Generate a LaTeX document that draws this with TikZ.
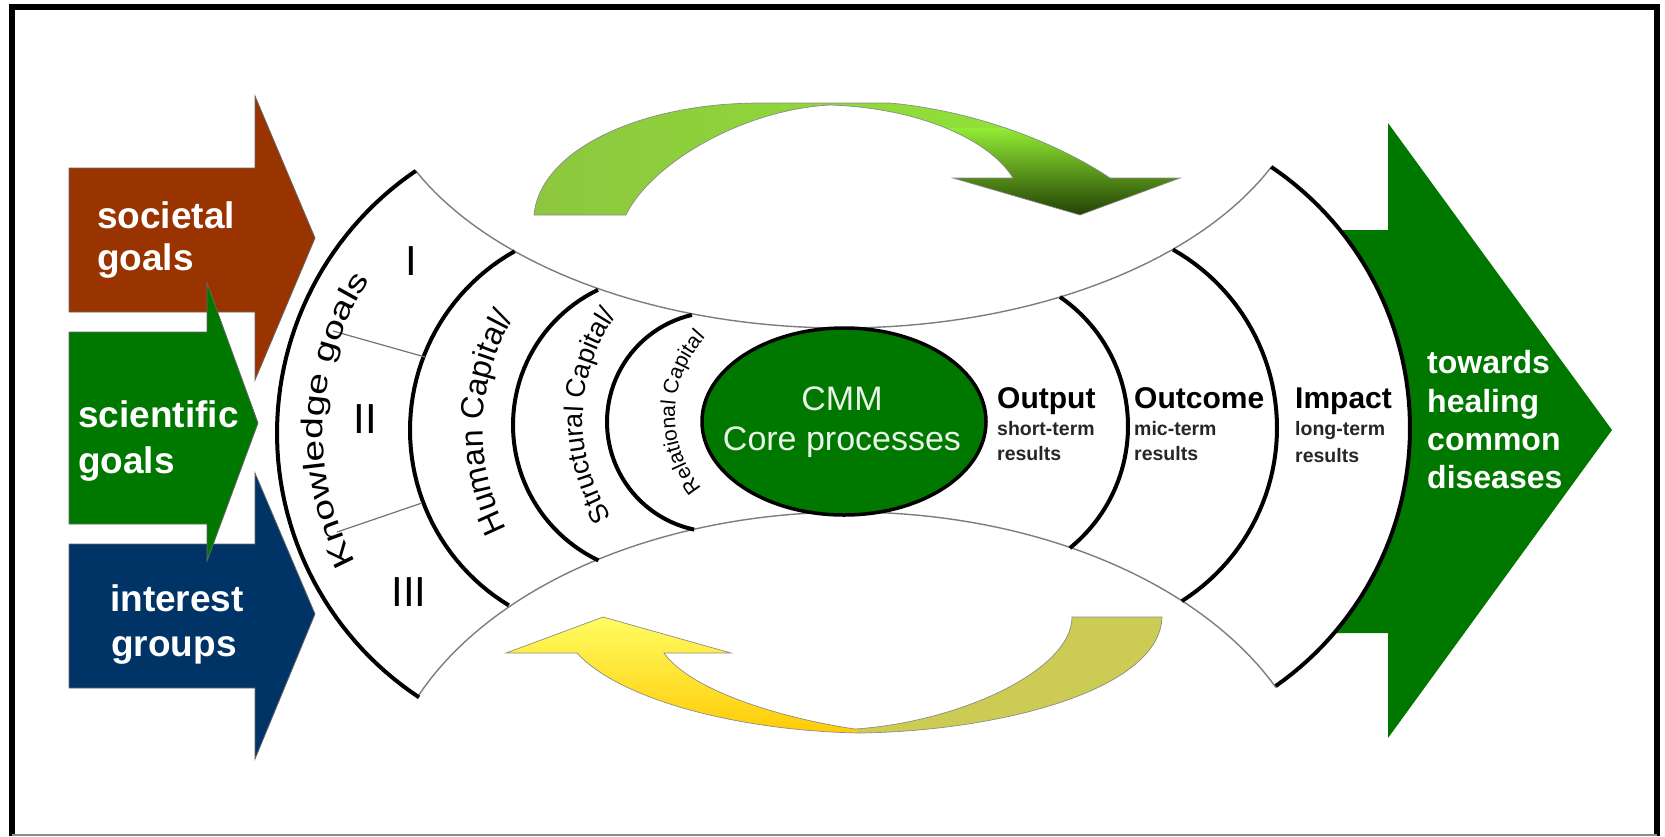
\documentclass[tikz,border=0pt]{standalone}
\usepackage{fontspec}
\setmainfont{Liberation Sans}
\newfontfamily\widesans[FakeStretch=1.3]{Liberation Sans}
\usetikzlibrary{decorations.text}

\definecolor{societybrown}{RGB}{153,51,0}
\definecolor{interestnavy}{RGB}{0,51,102}
\definecolor{cmmgreen}{RGB}{0,120,0}
\definecolor{rimgrey}{RGB}{125,125,125}
\definecolor{leafA}{RGB}{141,198,63}
\definecolor{leafB}{RGB}{146,236,52}
\definecolor{leafC}{RGB}{74,132,20}
\definecolor{leafD}{RGB}{26,51,0}
\definecolor{sunA}{RGB}{255,255,102}
\definecolor{sunB}{RGB}{255,200,0}
\definecolor{olivetail}{RGB}{204,204,85}
\definecolor{cmmtext}{RGB}{232,245,232}

\tikzset{
  ring/.style={line width=4pt, black},
  rim/.style={line width=1.4pt, rimgrey},
  divider/.style={line width=1.2pt, black!55},
  goalarrow/.style={draw=black!60, line width=0.8pt},
  goallabel/.style={font=\fontsize{37}{37}\selectfont\bfseries, text=white, inner sep=0pt, anchor=base west},
  aimlabel/.style={font=\fontsize{32}{32}\selectfont\bfseries, text=white, inner sep=0pt, anchor=base west},
  stagehead/.style={font=\fontsize{30}{30}\selectfont\bfseries, inner sep=0pt, anchor=base west},
  stagenote/.style={font=\fontsize{19.5}{19.5}\selectfont\bfseries, text=black!85, inner sep=0pt, anchor=base west},
  numeral/.style={font=\fontsize{42}{42}\selectfont, inner sep=0pt},
  cmmlabel/.style={font=\fontsize{34}{34}\selectfont, text=cmmtext, inner sep=0pt, anchor=base},
  cycleedge/.style={draw=black!45, line width=0.7pt},
}

\begin{document}
\begin{tikzpicture}[x=1pt,y=-1pt]
\useasboundingbox (0,0) rectangle (1665,836);

% frame
\draw[line width=6pt] (12,836) -- (12,6.5) -- (1656.5,6.5) -- (1656.5,836);
\draw[line width=2pt, black!45] (12,834.5) -- (1656.5,834.5);

% outgoing arrow behind the body
\fill[cmmgreen] (1300,230) -- (1388,230) -- (1388,123) -- (1612,430) -- (1388,738) -- (1388,633) -- (1300,633) -- cycle;

% white body of the model
\fill[white] plot[domain=235.8:123.5,samples=60] ({594+317*cos(\x)},{433+317*sin(\x)})
  -- plot[domain=203.5:335,samples=80] ({850+470*cos(\x)},{816+304*sin(\x)})
  -- plot[domain=55:-56,samples=60] ({1095+315*cos(\x)},{428+315*sin(\x)})
  -- plot[domain=24.1:155.1,samples=80] ({842+470*cos(\x)},{56.5+271.5*sin(\x)})
  -- cycle;

% upper and lower rims
\draw[rim] plot[domain=24.1:155.1,samples=80] ({842+470*cos(\x)},{56.5+271.5*sin(\x)});
\draw[rim] plot[domain=203.5:335,samples=80] ({850+470*cos(\x)},{816+304*sin(\x)});

% rings of the left fan
\draw[ring] plot[domain=235.8:123.5,samples=60] ({594+317*cos(\x)},{433+317*sin(\x)});
\draw[ring] plot[domain=240.7:121.2,samples=50] ({615+205*cos(\x)},{430+205*sin(\x)});
\draw[ring] plot[domain=244.3:115.5,samples=50] ({663+150*cos(\x)},{425+150*sin(\x)});
\draw[ring] plot[domain=256.8:102,samples=50] ({717+110*cos(\x)},{422+110*sin(\x)});
% rings of the right fan
\draw[ring] plot[domain=-55.5:51,samples=50] ({971.2+156.8*cos(\x)},{426.2+156.8*sin(\x)});
\draw[ring] plot[domain=-60.5:57.6,samples=50] ({1072+205*cos(\x)},{428+205*sin(\x)});
\draw[ring] plot[domain=-56:55,samples=60] ({1095+315*cos(\x)},{428+315*sin(\x)});

% sector dividers of the knowledge ring
\draw[divider] (333,331) -- (425,357);
\draw[divider] (337,532) -- (422,503);

% curved ring labels
\path[decorate, decoration={text along path, text align=center,
  text={|\widesans\fontsize{30}{30}\selectfont|Knowledge goals}}]
  plot[domain=140:226,samples=90] ({594+271*cos(\x)},{433+271*sin(\x)});
\path[decorate, decoration={text along path, text align=center,
  text={|\fontsize{32}{32}\selectfont|Human Capital/}}]
  plot[domain=140:224,samples=90] ({700+217*cos(\x)},{430+217*sin(\x)});
\path[decorate, decoration={text along path, text align=center,
  text={|\fontsize{27}{27}\selectfont|Structural Capital/}}]
  plot[domain=128:235,samples=90] ({765+182*cos(\x)},{420+182*sin(\x)});
\path[decorate, decoration={text along path, text align=center,
  text={|\fontsize{21}{21}\selectfont|Relational Capital}}]
  plot[domain=120:243,samples=90] ({789+114*cos(\x)},{415+114*sin(\x)});

% sector numerals
\node[numeral] (n1) at (411,261) {I};
\node[numeral] (n2) at (365,419) {II};
\node[numeral] (n3) at (409,592) {III};

% core processes
\draw[line width=3.5pt, fill=cmmgreen] (844,421.5) ellipse [x radius=142, y radius=93.5];
\node[cmmlabel] (cmm1) at (842,410) {CMM};
\node[cmmlabel] (cmm2) at (842,450) {Core processes};

% result stages
\node[stagehead] (out) at (997,408) {Output};
\node[stagenote] (out1) at (997,435) {short-term};
\node[stagenote] (out2) at (997,460) {results};
\node[stagehead] (oc) at (1134,408) {Outcome};
\node[stagenote] (oc1) at (1134,435) {mic-term};
\node[stagenote] (oc2) at (1134,460) {results};
\node[stagehead] (im) at (1295,408) {Impact};
\node[stagenote] (im1) at (1295,435) {long-term};
\node[stagenote] (im2) at (1295,462) {results};

% outgoing arrow label
\node[aimlabel] (t1) at (1427,373) {towards};
\node[aimlabel] (t2) at (1427,412) {healing};
\node[aimlabel] (t3) at (1427,450) {common};
\node[aimlabel] (t4) at (1427,488) {diseases};

% upper feedback arrow
\begin{scope}
\clip (534,215) .. controls (540,150) and (640,103) .. (760,103) -- (890,103)
  .. controls (985,112) and (1065,148) .. (1110,178) -- (1180,178) -- (1080,215) -- (953,178) -- (1013,178)
  .. controls (990,140) and (920,108) .. (830,105) .. controls (740,110) and (650,165) .. (626,215) -- cycle;
\shade[left color=leafA, right color=leafB] (520,90) rectangle (1200,230);
\shade[top color=leafB, middle color=leafC, bottom color=leafD] (935,128) rectangle (1200,222);
\end{scope}
\draw[cycleedge] (534,215) .. controls (540,150) and (640,103) .. (760,103) -- (890,103)
  .. controls (985,112) and (1065,148) .. (1110,178) -- (1180,178) -- (1080,215) -- (953,178) -- (1013,178)
  .. controls (990,140) and (920,108) .. (830,105) .. controls (740,110) and (650,165) .. (626,215) -- cycle;

% lower feedback arrow
\begin{scope}
\clip (1162,617) .. controls (1160,690) and (1000,731) .. (860,733) .. controls (740,731) and (620,700) .. (577,653)
  -- (506,653) -- (603,617) -- (731,653) -- (664,653)
  .. controls (690,690) and (780,718) .. (855,729) .. controls (960,722) and (1072,670) .. (1072,617) -- cycle;
\shade[top color=sunA, bottom color=sunB] (490,612) rectangle (858,740);
\fill[olivetail] (858,600) rectangle (1175,740);
\end{scope}
\draw[cycleedge] (1162,617) .. controls (1160,690) and (1000,731) .. (860,733) .. controls (740,731) and (620,700) .. (577,653)
  -- (506,653) -- (603,617) -- (731,653) -- (664,653)
  .. controls (690,690) and (780,718) .. (855,729) .. controls (960,722) and (1072,670) .. (1072,617) -- cycle;

% incoming goal arrows
\draw[goalarrow, fill=societybrown] (69,168) -- (255,168) -- (255,96) -- (315,238) -- (255,380) -- (255,312) -- (69,312) -- cycle;
\draw[goalarrow, fill=interestnavy] (69,544) -- (255,544) -- (255,473) -- (315,614) -- (255,759) -- (255,688) -- (69,688) -- cycle;
\draw[goalarrow, fill=cmmgreen] (69,332) -- (207,332) -- (207,283) -- (258,423) -- (207,561) -- (207,524) -- (69,524) -- cycle;

\node[goallabel] (s1) at (97,228) {societal};
\node[goallabel] (s2) at (97,270) {goals};
\node[goallabel] (g1) at (78,427) {scientific};
\node[goallabel] (g2) at (78,473) {goals};
\node[goallabel] (i1) at (110,611) {interest};
\node[goallabel] (i2) at (111,656) {groups};
\end{tikzpicture}
\end{document}
